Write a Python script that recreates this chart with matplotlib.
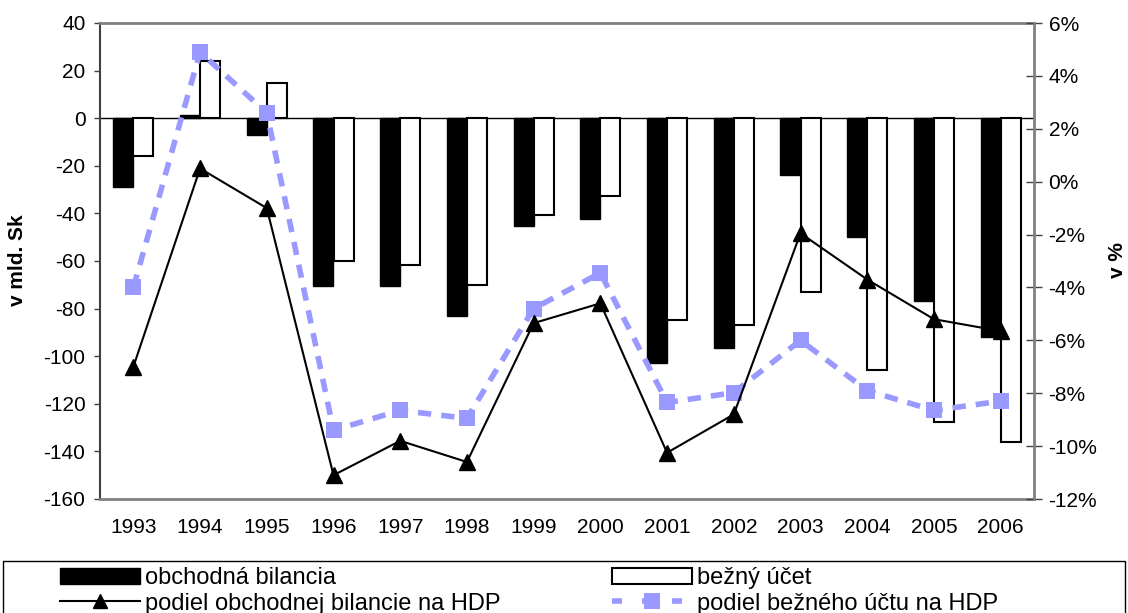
import numpy as np
import matplotlib.pyplot as plt
from matplotlib.patches import Patch, Rectangle
from matplotlib.lines import Line2D
from matplotlib.ticker import FuncFormatter

plt.rcParams['font.family'] = ['Liberation Sans', 'DejaVu Sans']
plt.rcParams['axes.unicode_minus'] = False

years = ['1993', '1994', '1995', '1996', '1997', '1998', '1999',
         '2000', '2001', '2002', '2003', '2004', '2005', '2006']
obchodna_bilancia = [-29, 1.5, -7, -70.5, -70.5, -83, -45.5,
                     -42.3, -103, -96.5, -24, -50, -76.7, -91.8]
bezny_ucet = [-16, 24, 15, -60, -61.5, -70, -40.7,
              -32.7, -84.7, -87, -73, -106, -127.5, -136]
podiel_ob_hdp = [-7.0, 0.5, -1.0, -11.1, -9.8, -10.6, -5.35,
                 -4.6, -10.25, -8.8, -1.95, -3.7, -5.2, -5.65]
podiel_bu_hdp = [-4.0, 4.9, 2.6, -9.4, -8.65, -8.95, -4.8,
                 -3.45, -8.35, -7.98, -6.0, -7.9, -8.65, -8.3]

light_blue = '#9999ff'
grey = '#808080'
W, H = 1128, 613

fig = plt.figure(figsize=(W / 100, H / 100), dpi=100)
ax = fig.add_axes([100 / W, 1 - 499 / H, 934 / W, 476 / H])
x = np.arange(len(years))
w = 0.3

ax.bar(x - w / 2, obchodna_bilancia, w, color='black', edgecolor='black', linewidth=1, zorder=2)
ax.bar(x + w / 2, bezny_ucet, w, color='white', edgecolor='black', linewidth=1.5, zorder=2)
ax.axhline(0, color='black', linewidth=1, zorder=1)

ax.set_xlim(-0.5, len(years) - 0.5)
ax.set_ylim(-160, 40)
ax.set_yticks(np.arange(-160, 41, 20))
ax.set_xticks(x)
ax.set_xticklabels(years)
ax.tick_params(axis='x', length=0, pad=14, labelsize=15)
ax.tick_params(axis='y', length=4.5, width=1, color='#404040', labelsize=15, pad=6)
for s in ['top', 'bottom']:
    ax.spines[s].set_color(grey)
    ax.spines[s].set_linewidth(2)
ax.spines['left'].set_color('#404040')
ax.spines['left'].set_linewidth(1.5)
ax.spines['right'].set_visible(False)

ax2 = ax.twinx()
ax2.plot(x, podiel_ob_hdp, color='black', linewidth=1.5, marker='^',
         markersize=11, zorder=4)
ax2.plot(x, podiel_bu_hdp, color=light_blue, linewidth=4, linestyle=(0, (2.4, 1.8)),
         marker='s', markersize=12, markeredgewidth=0, zorder=3)
ax2.set_ylim(-12, 6)
ax2.set_yticks(np.arange(-12, 7, 2))
ax2.yaxis.set_major_formatter(FuncFormatter(lambda v, p: f'{v:.0f}%'))
ax2.tick_params(axis='y', length=11, width=1, direction='inout', color='#404040',
                labelsize=15, pad=5)
for s in ['top', 'bottom', 'left']:
    ax2.spines[s].set_visible(False)
ax2.spines['right'].set_color(grey)
ax2.spines['right'].set_linewidth(2)

# axis titles
fig.text(18 / W, 1 - 260 / H, 'v mld. Sk', rotation=90, ha='center', va='center',
         fontsize=15, fontweight='bold')
fig.text(1108 / W, 1 - 260 / H, 'v %', rotation=90, ha='left', va='center',
         fontsize=15, fontweight='bold')

# legend frame
fig.patches.append(Rectangle((3 / W, -0.02), 1122 / W, 0.02 + (H - 561) / H,
                             transform=fig.transFigure, facecolor='white',
                             edgecolor='black', linewidth=1))

leg_kw = dict(loc='upper left', fontsize=17, frameon=False, borderpad=0,
              borderaxespad=0, handlelength=3.4, handleheight=0.68,
              handletextpad=0.2, labelspacing=0.15)
h1 = [Patch(facecolor='black', edgecolor='black'),
      Line2D([], [], color='black', linewidth=1.5, marker='^', markersize=10)]
h2 = [Patch(facecolor='white', edgecolor='black', linewidth=1.5),
      Line2D([], [], color=light_blue, linewidth=4, linestyle=(0, (1.8, 3.6)),
             marker='s', markersize=11, markeredgewidth=0)]
leg1 = fig.legend(h1, ['obchodná bilancia', 'podiel obchodnej bilancie na HDP'],
                  bbox_to_anchor=(60 / W, 1 - 567 / H), **leg_kw)
leg2 = fig.legend(h2, ['bežný účet', 'podiel bežného účtu na HDP'],
                  bbox_to_anchor=(612 / W, 1 - 567 / H), **leg_kw)

fig.savefig('out.png', dpi=100)
